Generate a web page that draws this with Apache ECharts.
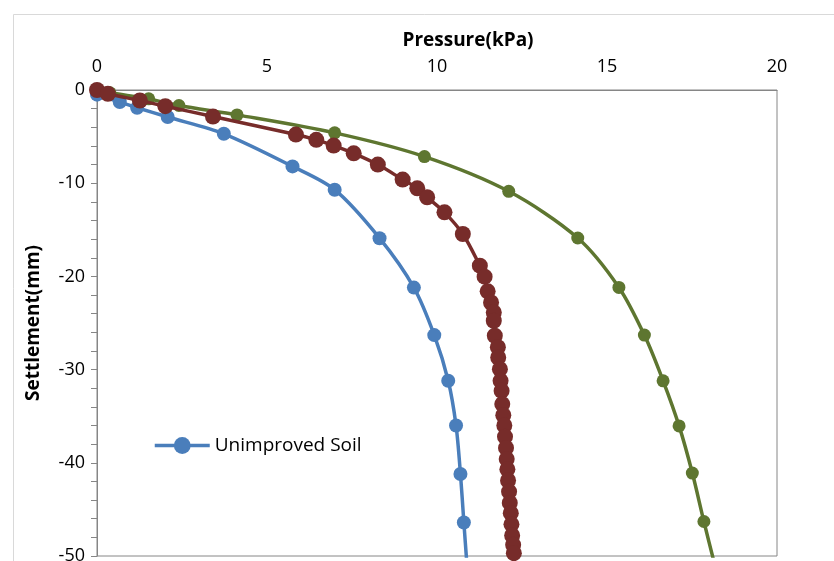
<!DOCTYPE html>
<html>
<head>
<meta charset="utf-8">
<script src="https://cdn.jsdelivr.net/npm/echarts@6/dist/echarts.min.js"></script>
<style>
html,body{margin:0;padding:0;background:#fff;}
#c{width:834px;height:561px;}
</style>
</head>
<body>
<div id="c"></div>
<script>
// Pressure (kPa) on x, Settlement (mm) on y
var xTicks = [0, 5, 10, 15, 20];
var yTicks = [0, -10, -20, -30, -40, -50];

var unimprovedX = [0, 0.67, 1.18, 2.08, 3.73, 5.75, 6.99, 8.31, 9.32, 9.92, 10.33, 10.56, 10.69, 10.79, 10.89];
var unimprovedY = [-0.5, -1.3, -1.9, -2.9, -4.7, -8.2, -10.7, -15.9, -21.2, -26.3, -31.2, -36.0, -41.2, -46.4, -51.4];

var redX = [0, 0.32, 1.26, 2.01, 3.41, 5.85, 6.45, 6.96, 7.55, 8.26, 8.99, 9.42, 9.71, 10.22, 10.76, 11.26, 11.40, 11.49, 11.59, 11.67, 11.67, 11.70, 11.79, 11.80, 11.85, 11.87, 11.90, 11.92, 11.95, 11.98, 12.00, 12.03, 12.05, 12.07, 12.09, 12.12, 12.14, 12.17, 12.19, 12.21, 12.24, 12.26];
var redY = [0, -0.41, -1.13, -1.74, -2.85, -4.78, -5.35, -5.96, -6.79, -8.0, -9.61, -10.55, -11.51, -13.13, -15.45, -18.85, -20.03, -21.6, -22.8, -23.87, -24.76, -26.37, -27.6, -28.7, -29.95, -31.2, -32.28, -33.7, -34.9, -36.0, -37.2, -38.4, -39.6, -40.7, -41.9, -43.1, -44.3, -45.4, -46.6, -47.8, -48.8, -49.7];

var greenX = [0, 0.38, 1.52, 2.41, 4.12, 6.99, 9.63, 12.11, 14.14, 15.35, 16.10, 16.65, 17.12, 17.51, 17.85, 18.2];
var greenY = [0, -0.3, -0.95, -1.66, -2.67, -4.6, -7.14, -10.87, -15.88, -21.18, -26.3, -31.2, -36.04, -41.1, -46.3, -51.4];

function pairs(xs, ys) { return xs.map(function (x, i) { return [x, ys[i]]; }); }

var FONT = 'Open Sans';
var chart = echarts.init(document.getElementById('c'), null, {renderer: 'canvas'});
chart.setOption({
  animation: false,
  backgroundColor: '#fff',
  textStyle: {fontFamily: FONT},
  graphic: [{
    type: 'rect', left: 11, top: 12, silent: true,
    shape: {width: 900, height: 700},
    style: {fill: 'none', stroke: '#d9d9d9', lineWidth: 1}
  }],
  grid: {left: 97, top: 90, right: 57, bottom: 5, outerBoundsMode: 'none', containLabel: false,
         show: true, borderColor: '#868686', borderWidth: 1, backgroundColor: 'transparent'},
  legend: {
    data: ['Unimproved Soil'],
    left: 148, top: 431,
    itemWidth: 55, itemHeight: 21, itemGap: 5,
    itemStyle: {borderWidth: 0},
    lineStyle: {width: 3.5},
    textStyle: {fontFamily: FONT, fontSize: 19, color: '#000'}
  },
  xAxis: {
    type: 'value', position: 'top', min: xTicks[0], max: xTicks[xTicks.length - 1], interval: 5,
    name: 'Pressure(kPa)', nameLocation: 'middle', nameGap: 40,
    nameTextStyle: {fontFamily: FONT, fontWeight: 'bold', fontSize: 19, color: '#000', padding: [0, 0, 0, 62]},
    axisLine: {show: true, lineStyle: {color: '#868686', width: 1}},
    axisTick: {show: false},
    axisLabel: {fontFamily: FONT, fontSize: 18, color: '#000', margin: 14},
    splitLine: {show: false}
  },
  yAxis: {
    type: 'value', min: yTicks[yTicks.length - 1], max: yTicks[0], interval: 10,
    name: 'Settlement(mm)', nameLocation: 'middle', nameGap: 54, nameRotate: 90,
    nameTextStyle: {fontFamily: FONT, fontWeight: 'bold', fontSize: 19, color: '#000'},
    axisLine: {show: true, lineStyle: {color: '#868686', width: 1}},
    axisTick: {show: true, inside: false, length: 6, lineStyle: {color: '#868686'}},
    minorTick: {show: true, splitNumber: 5, length: 6, lineStyle: {color: '#868686'}},
    axisLabel: {fontFamily: FONT, fontSize: 18, color: '#000', margin: 12},
    splitLine: {show: false}
  },
  series: [
    {
      name: 'Unimproved Soil', type: 'line', smooth: 0.3, clip: true,
      data: pairs(unimprovedX, unimprovedY),
      symbol: 'circle', symbolSize: 14,
      lineStyle: {color: '#4A7EBB', width: 3.5},
      itemStyle: {color: '#4A7EBB'}, z: 2
    },
    {
      name: 'Green', type: 'line', smooth: 0.3, clip: true,
      data: pairs(greenX, greenY),
      symbol: 'circle', symbolSize: 13,
      lineStyle: {color: '#5E7630', width: 3.5},
      itemStyle: {color: '#5E7630'}, z: 3
    },
    {
      name: 'Red', type: 'line', smooth: 0.3, clip: true,
      data: pairs(redX, redY),
      symbol: 'circle', symbolSize: 16,
      lineStyle: {color: '#772C2A', width: 3.5},
      itemStyle: {color: '#772C2A'}, z: 4
    }
  ]
});
</script>
</body>
</html>
